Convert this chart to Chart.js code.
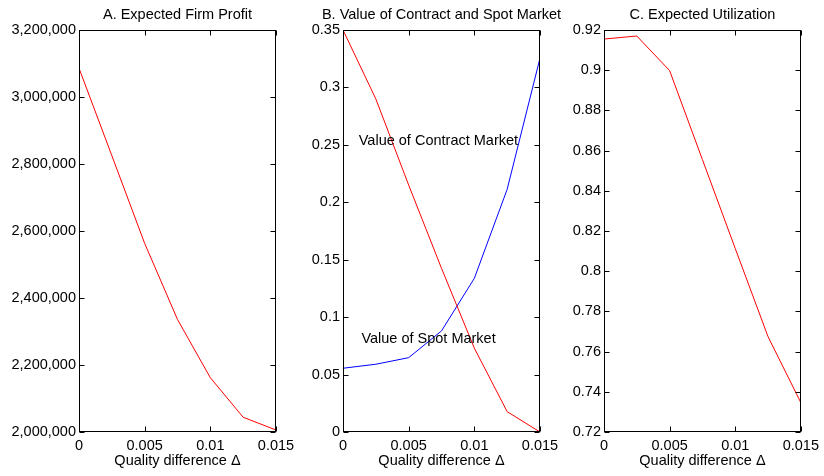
<!DOCTYPE html>
<html>
<head>
<meta charset="utf-8">
<script src="https://cdn.jsdelivr.net/npm/chart.js@4"></script>
<style>
  html, body { margin: 0; padding: 0; background: #fff; }
  #wrap { position: relative; width: 824px; height: 476px; overflow: hidden; background: #fff; }
  canvas { position: absolute; top: 0; }
</style>
</head>
<body>
<div id="wrap">
  <canvas id="cA" width="300" height="476" style="left:0px"></canvas>
  <canvas id="cB" width="290" height="476" style="left:290px"></canvas>
  <canvas id="cC" width="264" height="476" style="left:560px"></canvas>
</div>
<script>
// Quality difference between the two grades (x axis of every panel)
const qualityDiff = [0, 0.0025, 0.005, 0.0075, 0.01, 0.0125, 0.015];
const xTicks = [0, 0.005, 0.01, 0.015];

// Panel A: expected firm profit
const firmProfit = [3086000, 2825000, 2563000, 2336000, 2162000, 2044000, 2006000];
// Panel B: value of the two markets
const contractValue = [0.35, 0.29, 0.215, 0.1425, 0.073, 0.0177, 0];
const spotValue = [0.0555, 0.059, 0.0647, 0.088, 0.1338, 0.2113, 0.3255];
// Panel C: expected utilization
const utilization = [0.9155, 0.917, 0.8998, 0.8555, 0.8113, 0.7674, 0.7346];

const panelTitles = ['A. Expected Firm Profit', 'B. Value of Contract and Spot Market', 'C. Expected Utilization'];
const xAxisTitle = 'Quality difference \u0394';
const lineLabels = ['Value of Contract Market', 'Value of Spot Market'];

const FONT = '"Liberation Sans", Arial, Helvetica, sans-serif';
const FS = 14.5;
Chart.defaults.font.family = FONT;
Chart.defaults.font.size = FS;
Chart.defaults.color = '#000';

const pts = vals => vals.map((v, i) => ({ x: qualityDiff[i], y: v }));
// shortest decimal form: 0.3, 0.005, 0.01
const shortNum = v => String(parseFloat(Number(v).toFixed(6)));

// Boxed axes with inward tick marks, panel title and in-plot labels
const boxFrame = {
  id: 'boxFrame',
  afterDraw(chart, args, opts) {
    const { ctx, chartArea: a, scales: { x, y } } = chart;
    const L = Math.round(a.left) + 0.5, R = Math.round(a.right) - 0.5;
    const T = Math.round(a.top) + 0.5, B = Math.round(a.bottom) - 0.5;
    ctx.save();
    ctx.strokeStyle = '#000';
    ctx.lineWidth = 1;
    ctx.beginPath();
    x.ticks.forEach(t => {
      const px = Math.round(x.getPixelForValue(t.value)) + 0.5;
      ctx.moveTo(px, B); ctx.lineTo(px, B - 5);
      ctx.moveTo(px, T); ctx.lineTo(px, T + 5);
    });
    y.ticks.forEach(t => {
      const py = Math.round(y.getPixelForValue(t.value)) + 0.5;
      ctx.moveTo(L, py); ctx.lineTo(L + 5, py);
      ctx.moveTo(R, py); ctx.lineTo(R - 5, py);
    });
    ctx.stroke();
    ctx.strokeRect(L, T, R - L, B - T);

    ctx.fillStyle = '#000';
    ctx.font = FS + 'px ' + FONT;
    ctx.textAlign = 'center';
    ctx.textBaseline = 'middle';
    ctx.fillText(opts.title, (a.left + a.right) / 2, 15);

    (opts.notes || []).forEach(n => {
      ctx.textAlign = 'left';
      ctx.fillText(n.text, x.getPixelForValue(n.x), y.getPixelForValue(n.y));
    });
    ctx.restore();
  }
};

function makePanel(id, yWidth, padRight, datasets, yOpts, title, notes) {
  return new Chart(document.getElementById(id), {
    type: 'line',
    data: { datasets },
    options: {
      responsive: false,
      devicePixelRatio: 1,
      animation: false,
      layout: { padding: { top: 30, left: 0, right: padRight, bottom: 0 } },
      plugins: {
        legend: { display: false },
        tooltip: { enabled: false },
        boxFrame: { title, notes }
      },
      elements: { point: { radius: 0 }, line: { borderWidth: 1, tension: 0 } },
      scales: {
        x: {
          type: 'linear',
          min: 0, max: 0.015,
          afterBuildTicks: s => { s.ticks = xTicks.map(v => ({ value: v })); },
          ticks: { padding: 5, maxRotation: 0, autoSkip: false, callback: shortNum },
          grid: { display: false, drawTicks: false, tickLength: 0 },
          border: { display: false },
          title: { display: true, text: xAxisTitle, padding: { top: 0, bottom: 6 } },
          afterFit: s => { s.height = 44; }
        },
        y: Object.assign({
          type: 'linear',
          grid: { display: false, drawTicks: false, tickLength: 0 },
          border: { display: false },
          afterFit: s => { s.width = yWidth; }
        }, yOpts)
      }
    },
    plugins: [boxFrame]
  });
}

makePanel('cA', 79, 24,
  [{ data: pts(firmProfit), borderColor: '#ff0000' }],
  { min: 2000000, max: 3200000,
    ticks: { stepSize: 200000, padding: 3, callback: v => Math.round(v).toLocaleString('en-US') } },
  panelTitles[0]);

makePanel('cB', 53, 40,
  [{ data: pts(contractValue), borderColor: '#ff0000' },
   { data: pts(spotValue), borderColor: '#0000ff' }],
  { min: 0, max: 0.35, ticks: { stepSize: 0.05, padding: 3, callback: shortNum } },
  panelTitles[1],
  [{ text: lineLabels[0], x: 0.0012, y: 0.253 },
   { text: lineLabels[1], x: 0.0014, y: 0.081 }]);

makePanel('cC', 44, 20,
  [{ data: pts(utilization), borderColor: '#ff0000' }],
  { min: 0.72, max: 0.92, ticks: { stepSize: 0.02, padding: 3, callback: shortNum } },
  panelTitles[2]);
</script>
</body>
</html>
